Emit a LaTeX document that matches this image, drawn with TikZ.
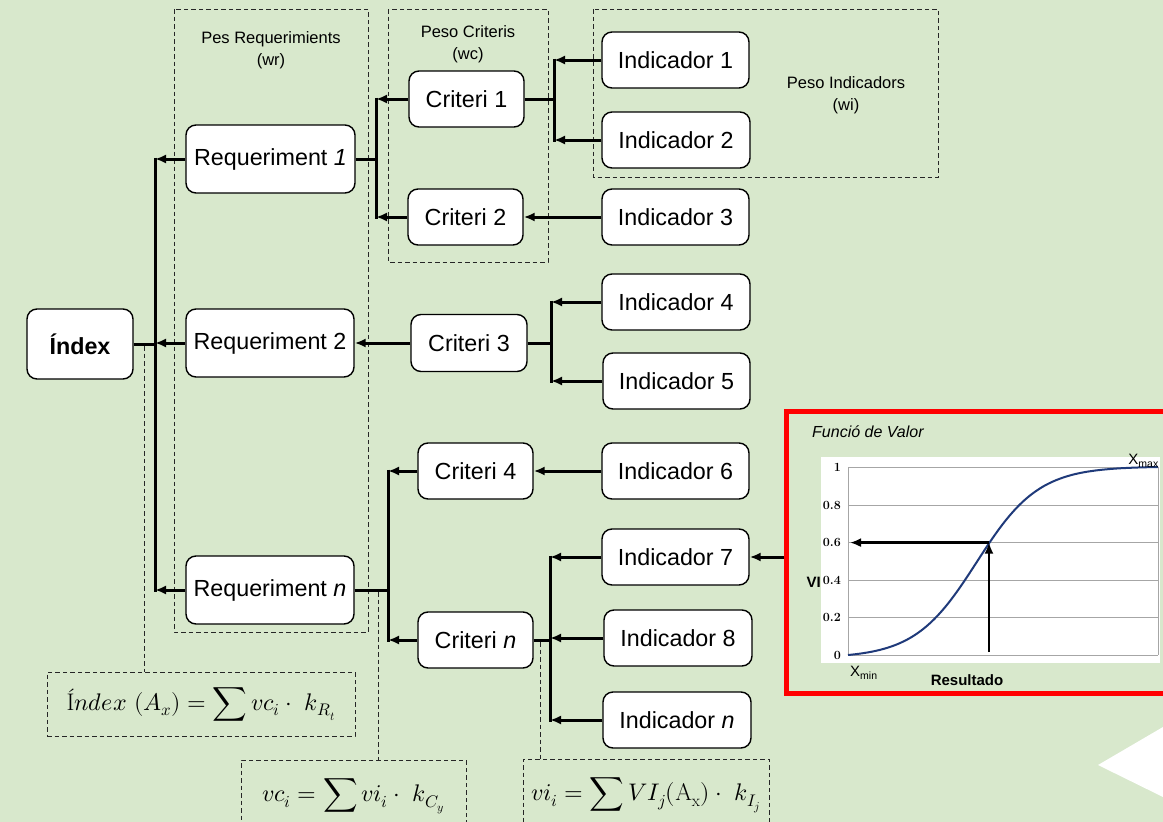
\documentclass[tikz,border=0pt]{standalone}
\usepackage{amsmath}
\usepackage{fontspec}
\usepackage{unicode-math}
\setmathfont{latinmodern-math.otf}
\setsansfont{Liberation Sans}
\usetikzlibrary{arrows.meta}
\definecolor{bg}{HTML}{D8E8CC}
\definecolor{navy}{HTML}{1F3A7A}
\definecolor{gridc}{HTML}{A6A6A6}
\definecolor{redbox}{HTML}{FF0000}
\tikzset{
  nbox/.style={draw=black, line width=1.4pt, fill=white, rounded corners=10pt, inner sep=0pt,
    font=\sffamily\fontsize{23.3}{28}\selectfont},
  conn/.style={line width=3pt},
  bus/.style={line width=3pt, shorten <=-1.5pt, shorten >=-1.5pt},
  arr/.style={line width=3pt, -{Latex[length=11pt,width=9pt]}},
  dbox/.style={draw=black!85, line width=1pt, dash pattern=on 4.5pt off 3pt},
  dline/.style={draw=black!85, line width=1pt, dash pattern=on 4.5pt off 3pt},
  lbl/.style={font=\sffamily\fontsize{16.5}{22}\selectfont, align=center},
  fml/.style={dbox, inner sep=0pt, font=\fontsize{24}{29}\selectfont},
  tick/.style={anchor=east, inner sep=0pt, font=\rmfamily\bfseries\fontsize{12.5}{14}\selectfont},
  chartlbl/.style={inner sep=0pt, font=\sffamily\fontsize{15}{18}\selectfont},
}
\begin{document}
\begin{tikzpicture}[x=1pt,y=-1pt]
\useasboundingbox (0,0) rectangle (1163,822);
\fill[bg] (0,0) rectangle (1163,822);
\clip (0,0) rectangle (1163,822);

% white shape bottom right
\fill[white] (1098,765) -- (1163,727) -- (1163,797) -- cycle;

% group boxes
\draw[dbox] (174,9) rectangle (368,632);
\draw[dbox] (388,9) rectangle (548,262);
\draw[dbox] (593,9) rectangle (938,177);
\node[lbl] (lwr) at (271,50) {Pes Requerimients\\(wr)};
\node[lbl] (lwc) at (468,44) {Peso Criteris\\(wc)};
\node[lbl] (lwi) at (846,95) {Peso Indicadors\\(wi)};

% nodes
\node[nbox, minimum width=106pt, minimum height=70pt, font=\sffamily\bfseries\fontsize{23.3}{28}\selectfont] (idx) at (80,344) {Índex};
\node[nbox, minimum width=169pt, minimum height=68pt] (r1) at (270.5,159) {Requeriment \textit{1}};
\node[nbox, minimum width=168pt, minimum height=68pt] (r2) at (270,343) {Requeriment 2};
\node[nbox, minimum width=168pt, minimum height=68pt] (rn) at (270,590) {Requeriment \textit{n}};
\node[nbox, minimum width=115pt, minimum height=56pt] (c1) at (466.5,99) {Criteri 1};
\node[nbox, minimum width=115pt, minimum height=56pt] (c2) at (465.5,217) {Criteri 2};
\node[nbox, minimum width=116pt, minimum height=57pt] (c3) at (469,343) {Criteri 3};
\node[nbox, minimum width=115pt, minimum height=56pt] (c4) at (475.5,471) {Criteri 4};
\node[nbox, minimum width=115pt, minimum height=56pt] (cn) at (475.5,640) {Criteri \textit{n}};
\node[nbox, minimum width=147pt, minimum height=56pt] (i1) at (675.5,60) {Indicador 1};
\node[nbox, minimum width=148pt, minimum height=56pt] (i2) at (676,140) {Indicador 2};
\node[nbox, minimum width=147pt, minimum height=56pt] (i3) at (675.5,217) {Indicador 3};
\node[nbox, minimum width=148pt, minimum height=56pt] (i4) at (676,302) {Indicador 4};
\node[nbox, minimum width=147pt, minimum height=56pt] (i5) at (676.5,381) {Indicador 5};
\node[nbox, minimum width=147pt, minimum height=56pt] (i6) at (675.5,471) {Indicador 6};
\node[nbox, minimum width=147pt, minimum height=56pt] (i7) at (675.5,557) {Indicador 7};
\node[nbox, minimum width=148pt, minimum height=56pt] (i8) at (678,638) {Indicador 8};
\node[nbox, minimum width=148pt, minimum height=56pt] (in) at (677,720) {Indicador \textit{n}};

% bus positions
\coordinate (B0) at (155,0);
\coordinate (B1) at (376,0);
\coordinate (B2) at (554,0);
\coordinate (B3) at (551,0);
\coordinate (B4) at (388,0);
\coordinate (B5) at (550,0);

% connectors
\draw[conn] (idx.east) -- (idx.east -| B0);
\draw[arr] (r1.west) -- (r1.west -| B0);
\draw[arr] (r2.west) -- (r2.west -| B0);
\draw[arr] (rn.west) -- (rn.west -| B0);
\draw[bus] (r1.west -| B0) -- (rn.west -| B0);

\draw[conn] (r1.east) -- (r1.east -| B1);
\draw[arr] (c1.west) -- (c1.west -| B1);
\draw[arr] (c2.west) -- (c2.west -| B1);
\draw[bus] (c1.west -| B1) -- (c2.west -| B1);

\draw[conn] (c1.east) -- (c1.east -| B2);
\draw[arr] (i1.west) -- (i1.west -| B2);
\draw[arr] (i2.west) -- (i2.west -| B2);
\draw[bus] (i1.west -| B2) -- (i2.west -| B2);

\draw[arr] (i3.west) -- (i3.west -| c2.east);

\draw[arr] (c3.west) -- (c3.west -| r2.east);
\draw[conn] (c3.east) -- (c3.east -| B3);
\draw[arr] (i4.west) -- (i4.west -| B3);
\draw[arr] (i5.west) -- (i5.west -| B3);
\draw[bus] (i4.west -| B3) -- (i5.west -| B3);

\draw[conn] (rn.east) -- (rn.east -| B4);
\draw[arr] (c4.west) -- (c4.west -| B4);
\draw[arr] (cn.west) -- (cn.west -| B4);
\draw[bus] (c4.west -| B4) -- (cn.west -| B4);

\draw[arr] (i6.west) -- (i6.west -| c4.east);

\draw[conn] (cn.east) -- (cn.east -| B5);
\draw[arr] (i7.west) -- (i7.west -| B5);
\draw[arr] (i8.west) -- (i8.west -| B5);
\draw[arr] (in.west) -- (in.west -| B5);
\draw[bus] (i7.west -| B5) -- (in.west -| B5);

% formulas
\node[fml, minimum width=308pt, minimum height=64pt] (fidx) at (201,704)
  {$\text{Í}ndex\ (A_x) = \displaystyle\sum vc_i \cdot\ k_{R_t}$};
\node[fml, minimum width=225pt, minimum height=72pt] (fvc) at (353.5,796)
  {$vc_i = \displaystyle\sum vi_i \cdot\ k_{C_y}$};
\node[fml, minimum width=246pt, minimum height=72pt] (fvi) at (646,795)
  {$vi_i = \displaystyle\sum VI_j(\mathrm{A}_\mathrm{x}) \cdot\ k_{I_j}$};

\coordinate (dI) at (144,346);
\coordinate (dC) at (378,592);
\coordinate (dV) at (540,642);
\draw[dline] (dI) -- (dI |- fidx.north);
\draw[dline] (dC) -- (dC |- fvc.north);
\draw[dline] (dV) -- (dV |- fvi.north);

% chart
\node[draw=redbox, fill=bg, line width=4.5pt, inner sep=0pt, minimum width=400pt, minimum height=282pt, anchor=north west] (chart) at (784,409) {};
\fill[white] (821,457) rectangle (1160,663);
\foreach \yy in {467,505,542.6,580.2,617.8,655} {
  \draw[gridc, line width=0.9pt] (848,\yy) -- (1158,\yy);
}
\draw[gridc, line width=0.9pt] (848,467) -- (848,655);
\draw[gridc, line width=0.9pt] (1158,467) -- (1158,655);
\node[tick] at (841,467) {1};
\node[tick] at (841,505) {0.8};
\node[tick] at (841,542.6) {0.6};
\node[tick] at (841,580.2) {0.4};
\node[tick] at (841,617.8) {0.2};
\node[tick] at (841,655) {0};
\draw[navy, line width=2pt] plot[domain=0:1, samples=80, smooth]
  ({848+310*\x},{655-188*((1/(1+exp(-10*(\x-0.415)))-0.0155)/0.9815)});
\coordinate (cp) at (989,542.6);
\draw[arr, line width=2.6pt] (cp) -- (850,542.6);
\draw[arr, line width=2.6pt] (989,652) -- (cp);
\node[chartlbl, anchor=base west, font=\sffamily\itshape\fontsize{16}{19}\selectfont] (ftitle) at (812,437) {Funció de Valor};
\node[chartlbl, anchor=base east] (xmax) at (1159,464) {X\textsubscript{max}};
\node[chartlbl, anchor=base west] (xmin) at (850,676) {X\textsubscript{min}};
\node[chartlbl, anchor=base, font=\sffamily\bfseries\fontsize{15}{18}\selectfont] (res) at (967,685) {Resultado};
\node[chartlbl, anchor=base east, font=\sffamily\bfseries\fontsize{15}{18}\selectfont] (vi) at (821,587) {VI};

\draw[arr] (chart.west |- i7.east) -- (i7.east);
\end{tikzpicture}
\end{document}
